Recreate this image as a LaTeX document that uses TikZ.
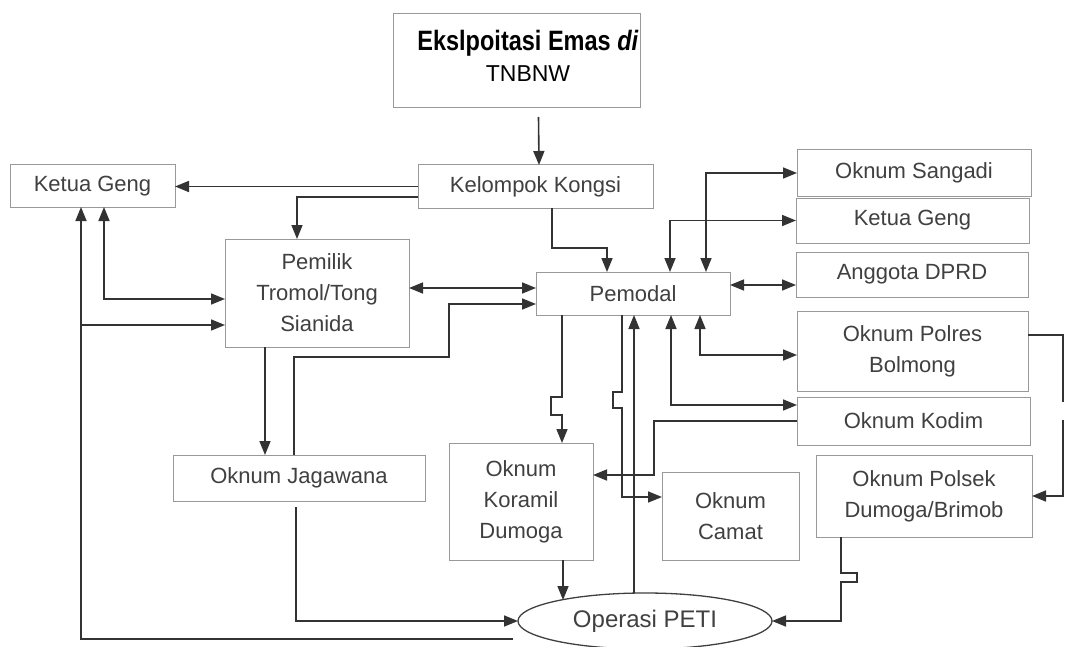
\documentclass[tikz,border=0pt]{standalone}
\usepackage{fontspec}
\setmainfont{Liberation Sans}
\usepackage{graphicx}
\usepackage{tikz}
\usetikzlibrary{shapes.geometric,arrows.meta}

\begin{document}
\begin{tikzpicture}[x=1pt,y=-1pt,
  every node/.style={inner sep=0pt, outer sep=0pt, align=center, text=black!75, font=\fontsize{22}{31}\selectfont},
  kotak/.style={draw=black!40, line width=1pt},
  panah/.style={draw=black!80, line width=1.6pt, -{Triangle[length=14pt,width=11pt]}},
  panah2/.style={draw=black!80, line width=1.6pt, {Triangle[length=14pt,width=11pt]}-{Triangle[length=14pt,width=11pt]}}]
\fill[white] (0,0) rectangle (1067,647);
\useasboundingbox (0,0) rectangle (1067,647);

\node[kotak, minimum width=247pt, minimum height=94pt] (judul) at (516.5,61) {};
\node[text=black, font=\fontsize{23}{31}\selectfont] (judulteks) at (528,56) {\scalebox{0.84}[1]{\fontsize{28}{30}\selectfont\bfseries Ekslpoitasi Emas \textit{di}}\\TNBNW};
\node[kotak, minimum width=235pt, minimum height=43pt] (kongsi) at (535.5,186.5) {Kelompok Kongsi};
\node[kotak, minimum width=165pt, minimum height=42pt] (ketuakiri) at (92.5,186) {Ketua Geng};
\node[kotak, minimum width=184pt, minimum height=108pt] (pemilik) at (317,293) {Pemilik\\Tromol/Tong\\Sianida};
\node[kotak, minimum width=252pt, minimum height=46pt] (jagawana) at (299,478) {Oknum Jagawana};
\node[kotak, minimum width=194pt, minimum height=43pt] (pemodal) at (633,293.5) {Pemodal};
\node[kotak, minimum width=234pt, minimum height=46pt] (sangadi) at (914,173) {Oknum Sangadi};
\node[kotak, minimum width=233pt, minimum height=45pt] (ketuakanan) at (912.5,220.5) {Ketua Geng};
\node[kotak, minimum width=232pt, minimum height=45pt] (dprd) at (912,274.5) {Anggota DPRD};
\node[kotak, minimum width=231pt, minimum height=80pt] (polres) at (912.5,351) {Oknum Polres\\Bolmong};
\node[kotak, minimum width=233pt, minimum height=48pt] (kodim) at (913.5,421) {Oknum Kodim};
\node[kotak, minimum width=216pt, minimum height=82pt] (polsek) at (924,496) {Oknum Polsek\\Dumoga/Brimob};
\node[kotak, minimum width=144pt, minimum height=117pt] (koramil) at (521,501.5) {Oknum\\Koramil\\Dumoga};
\node[kotak, minimum width=137pt, minimum height=88pt] (camat) at (730.5,516) {Oknum\\Camat};
\node[draw=black!75, line width=1.3pt, ellipse, minimum width=254pt, minimum height=56pt, font=\fontsize{24}{30}\selectfont] (peti) at (645,621) {Operasi PETI};

\coordinate (ujung) at (513,639);
\coordinate (cabang) at (81,325);

\draw[panah] ([xshift=22pt,yshift=-9pt]judul.south) -- ([xshift=3.5pt]kongsi.north);
\draw[panah] (kongsi.west) -- (kongsi.west -| ketuakiri.east);
\draw[panah] ([yshift=-10.5pt]kongsi.west) -| ([xshift=-20pt]pemilik.north);
\draw[panah2] ([xshift=11.5pt]ketuakiri.south) |- ([yshift=-6pt]pemilik.west);
\draw[panah] (ujung) -| ([xshift=-11.5pt]ketuakiri.south);
\draw[panah] (cabang) -- (cabang -| pemilik.west);
\draw[panah] ([xshift=-52pt]pemilik.south) -- ([xshift=-52pt]pemilik.south |- jagawana.north);
\draw[panah] ([xshift=-5pt]jagawana.north) |- (449,357) |- ([yshift=-10.5pt]pemodal.west);
\draw[panah2] ([yshift=5pt]pemilik.east) -- ([yshift=5pt]pemilik.east -| pemodal.west);
\draw[panah] ([xshift=16.5pt]kongsi.south) -- ++(0,40) -| ([xshift=-26pt]pemodal.north);
\draw[panah2] ([xshift=73pt]pemodal.north) |- (sangadi.west);
\draw[panah2] ([xshift=37pt]pemodal.north) |- (ketuakanan.west);
\draw[panah2] ([yshift=8.5pt]pemodal.east) -- ([yshift=8.5pt]pemodal.east -| dprd.west);
\draw[panah2] ([xshift=67pt]pemodal.south) |- ([yshift=-4pt]polres.west);
\draw[panah2] ([xshift=38pt]pemodal.south) |- ([yshift=16pt]kodim.west);
\draw[panah] (kodim.west) -- ++(-143,0) |- ([yshift=26.5pt]koramil.east);
\draw[panah] ([xshift=-71pt]pemodal.south) -- ++(0,82) -- ++(-11,0) -- ++(0,18) -- ++(11,0) -- ([xshift=41pt]koramil.north);
\draw[panah] ([xshift=-11pt]pemodal.south) -- ++(0,77) -- ++(-9,0) -- ++(0,16) -- ++(9,0) |- ([yshift=19pt]camat.west);
\draw[panah] ([xshift=1pt]pemodal.south |- peti.north) -- ([xshift=1pt]pemodal.south);
\draw[panah] ([xshift=42pt]koramil.south) -- ++(0,40);
\draw[panah] ([xshift=-3pt,yshift=-6pt]jagawana.south) |- (peti.west);
\draw[panah] ([xshift=-83pt]polsek.south) -- ++(0,36) -- ++(16,0) -- ++(0,9) -- ++(-16,0) |- (peti.east);
\draw[panah] ([yshift=16pt]polres.east) -| ++(35,67) ++(0,18) |- (polsek.east);
\end{tikzpicture}
\end{document}
